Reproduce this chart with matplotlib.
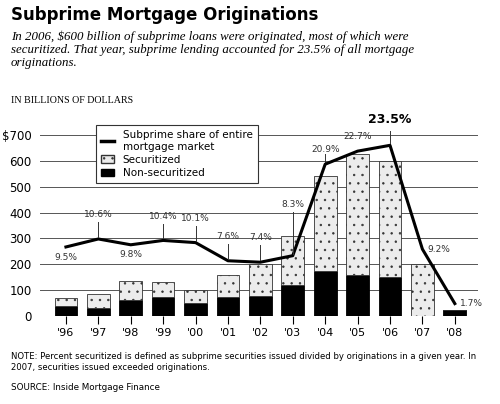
import matplotlib
matplotlib.use("Agg")
import matplotlib.pyplot as plt
from matplotlib.patches import Patch
from matplotlib.lines import Line2D

years = ["'96", "'97", "'98", "'99", "'00", "'01", "'02", "'03", "'04", "'05", "'06", "'07", "'08"]
total = [70, 85, 135, 130, 100, 160, 200, 310, 540, 625, 600, 200, 22]
non_sec = [40, 30, 60, 75, 50, 75, 78, 118, 175, 160, 150, 0, 22]
share = [9.5, 10.6, 9.8, 10.4, 10.1, 7.6, 7.4, 8.3, 20.9, 22.7, 23.5, 9.2, 1.7]
SCALE = 28.1  # share % -> plotted $ height

sec = [t - n for t, n in zip(total, non_sec)]
x = list(range(len(years)))
line_y = [s * SCALE for s in share]

plt.rcParams["hatch.color"] = "#b5b5b5"
plt.rcParams["hatch.linewidth"] = 0.5

fig = plt.figure(figsize=(5.0, 4.04), dpi=100)
ax = fig.add_axes([0.08, 0.218, 0.875, 0.486])

ax.bar(x, non_sec, width=0.7, color="black", edgecolor="black", linewidth=0.6, zorder=2)
ax.bar(x, sec, bottom=non_sec, width=0.7, color="#ececec", edgecolor="#333333",
       linewidth=0.6, hatch="..", zorder=2)
ax.plot(x, line_y, color="black", linewidth=2.2, zorder=3)

place = ["below", "above", "below", "above", "above", "above", "above", "above",
         "above", "above", "top", "right", "right"]
for i, (s, y, p) in enumerate(zip(share, line_y, place)):
    txt = f"{s}%"
    if p == "below":
        ax.text(i, y - 22, txt, ha="center", va="top", fontsize=6.5, color="#333333", zorder=4)
    elif p == "above":
        if i in (8, 9):
            ax.text(i, y + 40, txt, ha="center", va="bottom", fontsize=6.5, color="#333333")
            if i == 8:
                ax.plot([i, i], [y + 8, y + 38], color="#333333", lw=0.7)
        else:
            top = y + 65 if i != 7 else y + 170
            ax.plot([i, i], [y + 8, top], color="#333333", lw=0.7, zorder=4)
            ax.text(i, top + 12, txt, ha="center", va="bottom", fontsize=6.5, color="#333333")
    elif p == "top":
        ax.plot([i, i], [y + 8, y + 55], color="#333333", lw=0.7)
        ax.text(i, y + 75, txt, ha="center", va="bottom", fontsize=9, fontweight="bold")
    else:
        ax.text(i + 0.15, y, txt, ha="left", va="center", fontsize=6.5, color="#333333")

ax.set_xlim(-0.8, 12.7)
ax.set_ylim(0, 760)
ax.set_yticks(range(0, 701, 100))
ax.set_yticklabels(["0", "100", "200", "300", "400", "500", "600", "$700"], fontsize=8.5)
ax.set_xticks(x)
ax.set_xticklabels(years, fontsize=8)
ax.yaxis.grid(True, color="#555555", linewidth=0.7, zorder=0)
ax.set_axisbelow(True)
for sp in ax.spines.values():
    sp.set_visible(False)
ax.tick_params(axis="y", length=0, pad=6)
ax.tick_params(axis="x", length=6, width=0.8, direction="out", pad=3)

handles = [Line2D([0], [0], color="black", lw=2.5),
           Patch(facecolor="#ececec", edgecolor="#333333", hatch=".."),
           Patch(facecolor="black", edgecolor="black")]
labels = ["Subprime share of entire\nmortgage market", "Securitized", "Non-securitized"]
leg = ax.legend(handles, labels, loc="upper left", bbox_to_anchor=(0.115, 1.0),
                fontsize=7.5, frameon=True, fancybox=False, edgecolor="#333333",
                handlelength=1.3, borderpad=0.5, labelspacing=0.3, framealpha=1)
leg.get_frame().set_linewidth(0.8)

fig.text(0.022, 0.985, "Subprime Mortgage Originations", fontsize=12, fontweight="bold", va="top")
fig.text(0.022, 0.925, "In 2006, \\$600 billion of subprime loans were originated, most of which were\n"
         "securitized. That year, subprime lending accounted for 23.5% of all mortgage\n"
         "originations.", fontsize=9.3, style="italic", family="Liberation Serif",
         linespacing=1.1, va="top")
fig.text(0.022, 0.745, "IN BILLIONS OF DOLLARS", fontsize=7.2, family="Liberation Serif")
fig.text(0.022, 0.085, "NOTE: Percent securitized is defined as subprime securities issued divided by originations in a given year. In\n"
         "2007, securities issued exceeded originations.", fontsize=6.1, linespacing=1.2)
fig.text(0.022, 0.035, "SOURCE: Inside Mortgage Finance", fontsize=6.3)

fig.savefig("out.png", dpi=100)
